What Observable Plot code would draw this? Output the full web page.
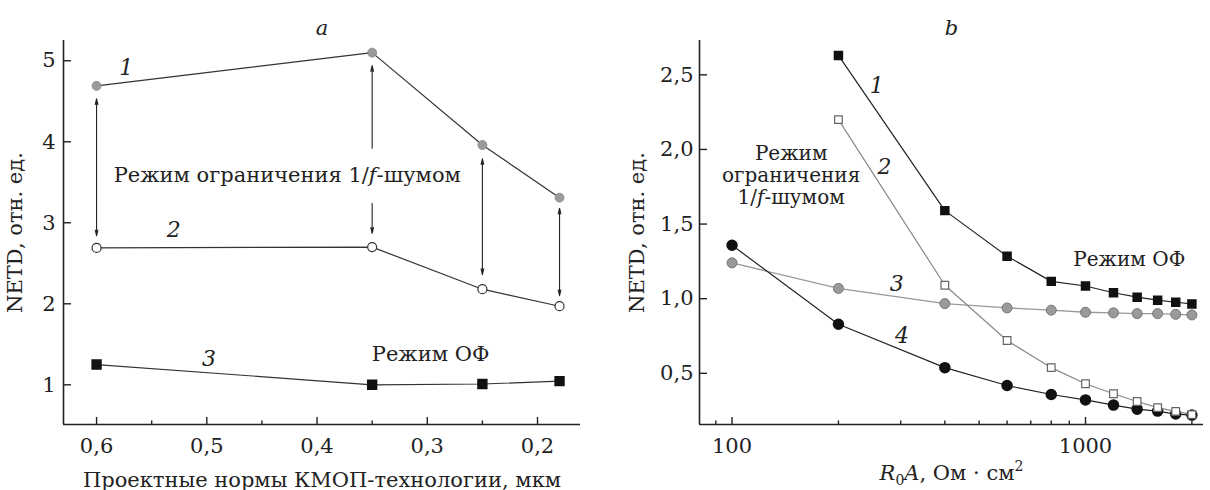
<!DOCTYPE html>
<html>
<head>
<meta charset="utf-8">
<script src="https://cdn.jsdelivr.net/npm/d3@7"></script>
<script src="https://cdn.jsdelivr.net/npm/@observablehq/plot@0.6"></script>
<style>
  html, body { margin: 0; padding: 0; background: #fff; }
  #wrap { display: flex; width: 1210px; height: 490px; }
</style>
</head>
<body>
<div id="wrap"></div>
<script>
// ---------- Panel a data ----------
const normsX = [0.6, 0.35, 0.25, 0.18];
const aSeries1 = [4.69, 5.10, 3.96, 3.31];
const aSeries2 = [2.69, 2.70, 2.18, 1.97];
const aSeries3 = [1.25, 1.00, 1.01, 1.045];
const aXTicks = [0.6, 0.5, 0.4, 0.3, 0.2];
const aXMinor = [0.55, 0.45, 0.35, 0.25];
const aYTicks = [1, 2, 3, 4, 5];
const aXDomain = [0.63, 0.161];
const aYDomain = [0.51, 5.25];
// arrows between curve 1 and curve 2 (start -> head)
const arrowX     = [0.6,  0.6,  0.35, 0.35, 0.25,  0.25,  0.18, 0.18];
const arrowStart = [3.685, 3.685, 3.92, 3.24, 3.075, 3.075, 2.64, 2.64];
const arrowEnd   = [4.53, 2.84, 4.94, 2.87, 3.79,  2.36,  3.18, 2.10];
// annotations a
const aLabels = ["1", "2", "3"];
const aLabelX = [0.573, 0.530, 0.498];
const aLabelY = [4.91, 2.91, 1.32];
const aNoteText = ["Режим ограничения 1/f-шумом", "Режим ОФ"];
const aNoteX = [0.427, 0.297];
const aNoteY = [3.59, 1.376];

// ---------- Panel b data ----------
const r0a = [100, 200, 400, 600, 800, 1000, 1200, 1400, 1600, 1800, 2000];
const r0aFrom200 = [200, 400, 600, 800, 1000, 1200, 1400, 1600, 1800, 2000];
const bSeries1 = [2.63, 1.59, 1.285, 1.116, 1.085, 1.04, 1.01, 0.99, 0.976, 0.965];
const bSeries2 = [2.20, 1.09, 0.72, 0.538, 0.43, 0.363, 0.311, 0.27, 0.245, 0.223];
const bSeries3 = [1.24, 1.069, 0.967, 0.938, 0.923, 0.909, 0.905, 0.90, 0.90, 0.895, 0.891];
const bSeries4 = [1.358, 0.829, 0.538, 0.418, 0.358, 0.322, 0.287, 0.26, 0.247, 0.227, 0.22];
const bXTicks = [100, 1000];
const bXMinor = [90, 200, 300, 400, 500, 600, 700, 800, 900, 2000];
const bYTicks = [0.5, 1.0, 1.5, 2.0, 2.5];
const bXDomain = [80.9, 2157];
const bYDomain = [0.157, 2.73];
const bLabels = ["1", "2", "3", "4"];
const bLabelX = [256.6, 269.8, 292.4, 302.7];
const bLabelY = [2.425, 1.884, 1.096, 0.751];
const bNoteText = ["Режим\nограничения\n1/f-шумом", "Режим ОФ"];
const bNoteX = [147, 1330];
const bNoteY = [1.83, 1.263];

const FONT = "DejaVu Serif";
const FS = 21;
const W = 605, H = 490, MT = 40, MB = 66;
const frameH = H - MT - MB;
const comma = d => String(d).replace(".", ",");
const fmt1 = d => d.toFixed(1).replace(".", ",");

const pts = (xs, ys) => xs.map((x, i) => ({x, y: ys[i]}));

// ---------- Panel a ----------
const aML = 63, aMR = 25;
const aFrameW = W - aML - aMR;
const arrows = arrowX.map((x, i) => ({x, y1: arrowStart[i], y2: arrowEnd[i]}));

const plotA = Plot.plot({
  width: W, height: H,
  marginTop: MT, marginBottom: MB, marginLeft: aML, marginRight: aMR,
  style: {fontFamily: FONT, fontSize: FS + "px", color: "#222", background: "#fff"},
  x: {domain: aXDomain},
  y: {domain: aYDomain},
  marks: [
    Plot.axisX({ticks: aXTicks, tickFormat: fmt1, tickSize: 0, tickPadding: 14,
      label: "Проектные нормы КМОП-технологии, мкм", labelAnchor: "center", labelOffset: 62, labelArrow: "none"}),
    Plot.axisY({ticks: aYTicks, tickFormat: comma, tickSize: 0, tickPadding: 8,
      label: "NETD, отн. ед.", labelAnchor: "center", labelOffset: 56, labelArrow: "none"}),
    Plot.tickX(aXTicks, {x: d => d, insetTop: frameH - 7, stroke: "#222", strokeWidth: 1.4}),
    Plot.tickX(aXMinor, {x: d => d, insetTop: frameH - 3.5, stroke: "#222", strokeWidth: 1.4}),
    Plot.tickY(aYTicks, {y: d => d, insetRight: aFrameW - 8, stroke: "#222", strokeWidth: 1.4}),
    Plot.ruleX([aXDomain[0]], {stroke: "#222", strokeWidth: 1.6}),
    Plot.ruleY([aYDomain[0]], {stroke: "#222", strokeWidth: 1.6}),
    Plot.arrow(arrows, {x1: "x", x2: "x", y1: "y1", y2: "y2", stroke: "#222", strokeWidth: 1.1, headLength: 8, headAngle: 26}),
    Plot.line(pts(normsX, aSeries1), {x: "x", y: "y", stroke: "#333", strokeWidth: 1.2}),
    Plot.line(pts(normsX, aSeries2), {x: "x", y: "y", stroke: "#333", strokeWidth: 1.2}),
    Plot.line(pts(normsX, aSeries3), {x: "x", y: "y", stroke: "#333", strokeWidth: 1.2}),
    Plot.dot(pts(normsX, aSeries1), {x: "x", y: "y", r: 4.5, fill: "#9a9a9a", stroke: "#8a8a8a", strokeWidth: 0.8}),
    Plot.dot(pts(normsX, aSeries2), {x: "x", y: "y", r: 4.5, fill: "#fff", stroke: "#333", strokeWidth: 1.2}),
    Plot.dot(pts(normsX, aSeries3), {x: "x", y: "y", r: 5, symbol: "square", fill: "#111", stroke: "#111"}),
    Plot.text(aLabels, {x: (d, i) => aLabelX[i], y: (d, i) => aLabelY[i], text: d => d, fontStyle: "italic", fontSize: FS + 1, fill: "#222"}),
    Plot.text(aNoteText, {x: (d, i) => aNoteX[i], y: (d, i) => aNoteY[i], text: d => d, fontSize: FS, fill: "#222"}),
    Plot.text(["a"], {frameAnchor: "top", dy: -20, fontStyle: "italic", fontSize: FS, fill: "#222"})
  ]
});

// ---------- Panel b ----------
const bML = 94, bMR = 7;
const bFrameW = W - bML - bMR;
const plotB = Plot.plot({
  width: W, height: H,
  marginTop: MT, marginBottom: MB, marginLeft: bML, marginRight: bMR,
  style: {fontFamily: FONT, fontSize: FS + "px", color: "#222", background: "#fff"},
  x: {type: "log", domain: bXDomain},
  y: {domain: bYDomain},
  marks: [
    Plot.axisX({ticks: bXTicks, tickFormat: d => String(d), tickSize: 0, tickPadding: 14,
      label: "R₀A, Ом · см²", labelAnchor: "center", labelOffset: 55, labelArrow: "none"}),
    Plot.axisY({ticks: bYTicks, tickFormat: fmt1, tickSize: 0, tickPadding: 6,
      label: "NETD, отн. ед.", labelAnchor: "center", labelOffset: 70, labelArrow: "none"}),
    Plot.tickX(bXTicks, {x: d => d, insetTop: frameH - 7, stroke: "#222", strokeWidth: 1.4}),
    Plot.tickX(bXMinor, {x: d => d, insetTop: frameH - 3.5, stroke: "#222", strokeWidth: 1.4}),
    Plot.tickY(bYTicks, {y: d => d, insetRight: bFrameW - 8, stroke: "#222", strokeWidth: 1.4}),
    Plot.ruleX([bXDomain[0]], {stroke: "#222", strokeWidth: 1.6}),
    Plot.ruleY([bYDomain[0]], {stroke: "#222", strokeWidth: 1.6}),
    Plot.line(pts(r0a, bSeries3), {x: "x", y: "y", stroke: "#999", strokeWidth: 1.3}),
    Plot.dot(pts(r0a, bSeries3), {x: "x", y: "y", r: 5, fill: "#9a9a9a", stroke: "#777", strokeWidth: 1}),
    Plot.line(pts(r0a, bSeries4), {x: "x", y: "y", stroke: "#222", strokeWidth: 1.2}),
    Plot.dot(pts(r0a, bSeries4), {x: "x", y: "y", r: 5, fill: "#111", stroke: "#111"}),
    Plot.line(pts(r0aFrom200, bSeries2), {x: "x", y: "y", stroke: "#888", strokeWidth: 1.2}),
    Plot.dot(pts(r0aFrom200, bSeries2), {x: "x", y: "y", r: 4.3, symbol: "square", fill: "#fff", stroke: "#666", strokeWidth: 1.2}),
    Plot.line(pts(r0aFrom200, bSeries1), {x: "x", y: "y", stroke: "#222", strokeWidth: 1.2}),
    Plot.dot(pts(r0aFrom200, bSeries1), {x: "x", y: "y", r: 4.5, symbol: "square", fill: "#111", stroke: "#111"}),
    Plot.text(bLabels, {x: (d, i) => bLabelX[i], y: (d, i) => bLabelY[i], text: d => d, fontStyle: "italic", fontSize: FS + 1, fill: "#222"}),
    Plot.text(bNoteText, {x: (d, i) => bNoteX[i], y: (d, i) => bNoteY[i], text: d => d, fontSize: FS - 1, lineHeight: 1.1, fill: "#222"}),
    Plot.text(["b"], {frameAnchor: "top", dy: -20, fontStyle: "italic", fontSize: FS, fill: "#222"})
  ]
});

// ---------- mixed italic / sub / superscript in texts ----------
const NS = "http://www.w3.org/2000/svg";
function ts(txt, attrs) {
  const t = document.createElementNS(NS, "tspan");
  for (const k in attrs) t.setAttribute(k, attrs[k]);
  t.textContent = txt;
  return t;
}
function decorate(svg) {
  svg.querySelectorAll("text, tspan").forEach(el => {
    if (el.children.length) return;
    const t = el.textContent;
    if (t.includes("1/f-")) {
      const i = t.indexOf("f");
      el.textContent = "";
      el.append(t.slice(0, i), ts("f", {"font-style": "italic"}), t.slice(i + 1));
    } else if (t === "R₀A, Ом · см²") {
      el.textContent = "";
      el.append(
        ts("R", {"font-style": "italic"}),
        ts("0", {"font-size": "14px", dy: "5"}),
        ts("A", {"font-style": "italic", dy: "-5"}),
        ", Ом · см",
        ts("2", {"font-size": "14px", dy: "-9"})
      );
    }
  });
}
decorate(plotA);
decorate(plotB);
document.getElementById("wrap").append(plotA, plotB);
</script>
</body>
</html>
